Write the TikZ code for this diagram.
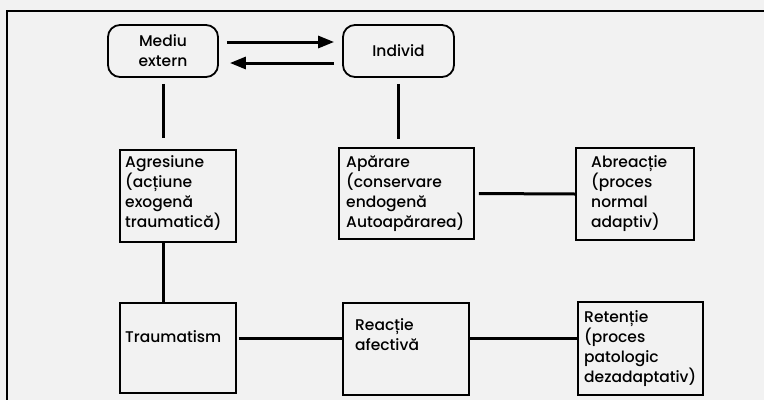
\documentclass[tikz,border=0pt]{standalone}
\usepackage{fontspec}
\setmainfont{Poppins}[UprightFont=* Medium]
\usetikzlibrary{arrows.meta}
\begin{document}
\begin{tikzpicture}[x=1pt,y=-1pt,
  box/.style={draw, line width=1.8pt, rectangle, inner sep=0pt},
  rbox/.style={draw, line width=1.8pt, rectangle, rounded corners=12pt, inner sep=0pt, align=center, font=\fontsize{15.5}{20}\selectfont},
  txt/.style={anchor=base west, inner sep=0pt, font=\fontsize{15.5}{20}\selectfont},
  conn/.style={line width=3pt},
  arr/.style={line width=3pt, -{Triangle[length=16pt,width=12pt]}},
  frame/.style={line width=1.4pt}
]
\fill[black!5] (0,0) rectangle (764,400);
\useasboundingbox (0,0) rectangle (764,400);
\draw[frame] (764,11) -- (7,11) -- (7,400);

\node[rbox, minimum width=110pt, minimum height=52pt] (mediu) at (163,51) {Mediu\\extern};
\node[rbox, minimum width=111pt, minimum height=52pt] (individ) at (398.5,51) {Individ};

\node[box, minimum width=116pt, minimum height=92pt] (agres) at (178,196) {};
\node[box, minimum width=135pt, minimum height=91pt] (apar) at (406.5,193.5) {};
\node[box, minimum width=118pt, minimum height=92pt] (abre) at (635,194) {};
\node[box, minimum width=116pt, minimum height=90pt] (traum) at (178,348) {};
\node[box, minimum width=126pt, minimum height=92pt] (react) at (406,349) {};
\node[box, minimum width=125pt, minimum height=93pt] (reten) at (640.5,348.5) {};

\node[txt] (tagres) at (125,167) {\parbox[t]{110pt}{\raggedright Agresiune\\(acțiune\\exogenă\\traumatică)}};
\node[txt] (tapar) at (346,167) {\parbox[t]{128pt}{\raggedright Apărare\\(conservare\\endogenă\\Autoapărarea)}};
\node[txt] (tabre) at (591,167) {\parbox[t]{105pt}{\raggedright Abreacție\\(proces\\normal\\adaptiv)}};
\node[txt] (ttraum) at (125,342) {Traumatism};
\node[txt] (treact) at (355,330) {\parbox[t]{110pt}{\raggedright Reacție\\afectivă}};
\node[txt] (treten) at (584,322) {\parbox[t]{118pt}{\raggedright Retenție\\(proces\\patologic\\dezadaptativ)}};

\draw[arr, shorten <=8pt, shorten >=8pt] ([yshift=9pt]mediu.east) -- ([yshift=9pt]individ.west);
\draw[arr, shorten <=8pt, shorten >=11pt] ([yshift=-12pt]individ.west) -- ([yshift=-12pt]mediu.east);

\draw[conn, shorten <=6pt, shorten >=11pt] (mediu.south) -- (mediu.south |- agres.north);
\draw[conn, shorten <=6pt, shorten >=8pt] (individ.south) -- (individ.south |- apar.north);
\draw[conn, shorten <=4pt] (apar.east) -- (abre.west);
\draw[conn] (mediu.south |- agres.south) -- (mediu.south |- traum.north);
\draw[conn, shorten <=2pt] ([yshift=10pt]traum.east) -- ([yshift=10pt]traum.east -| react.west);
\draw[conn] ([yshift=11pt]react.east) -- ([yshift=11pt]react.east -| reten.west);
\end{tikzpicture}
\end{document}
